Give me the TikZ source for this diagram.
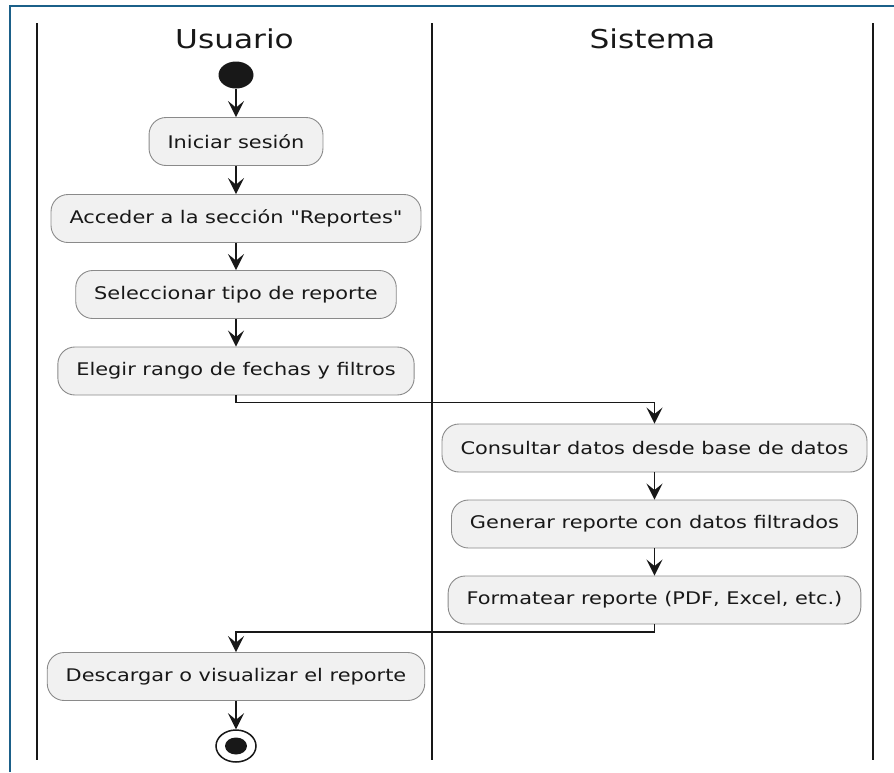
\documentclass[tikz,border=0pt]{standalone}
\usepackage{fontspec}
\usetikzlibrary{arrows.meta,shapes.geometric}
\newfontfamily\actfont[FakeStretch=1.2]{DejaVu Sans}
\definecolor{framecol}{HTML}{1B6089}
\definecolor{actfill}{HTML}{F1F1F1}
\definecolor{actline}{HTML}{8A8A8A}
\definecolor{ink}{HTML}{181818}
\begin{document}
\begin{tikzpicture}[x=1pt,y=-1pt,
  act/.style={draw=actline, line width=0.9pt, fill=actfill, rounded corners=17pt,
    minimum height=48pt, inner xsep=18.5pt, inner ysep=0pt, text=ink,
    font=\actfont\fontsize{17.4}{20}\selectfont},
  lanetitle/.style={text=ink, font=\actfont\fontsize{26}{30}\selectfont},
  lane/.style={draw=ink, line width=2.8pt},
  flow/.style={draw=ink, line width=1.5pt,
    -{Stealth[length=16pt, width=16pt, inset=6.5pt]}},
  startdot/.style={ellipse, fill=ink, minimum width=35pt, minimum height=27pt, inner sep=0pt},
  enddot/.style={ellipse, draw=ink, line width=1.5pt, fill=white,
    minimum width=40pt, minimum height=32pt, inner sep=0pt},
]
\useasboundingbox (0,0) rectangle (894,772);

% outer frame
\draw[framecol, line width=2pt] (9.5,772) -- (9.5,6) -- (894,6);

% swimlane separators
\draw[lane] (37,23) -- (37,760);
\draw[lane] (432,23) -- (432,760);
\draw[lane] (873,23) -- (873,760);

% lane titles
\node[lanetitle] (tuser) at (234.5,39) {Usuario};
\node[lanetitle] (tsys) at (652.5,39) {Sistema};

% activities
\node[startdot] (start) at (236,75) {};
\node[act] (a1) at (236,141.5) {Iniciar sesión};
\node[act] (a2) at (236,218.5) {Acceder a la sección "Reportes"};
\node[act] (a3) at (236,294.5) {Seleccionar tipo de reporte};
\node[act] (a4) at (236,371) {Elegir rango de fechas y filtros};
\node[act] (a5) at (654.5,448) {Consultar datos desde base de datos};
\node[act] (a6) at (654.5,524) {Generar reporte con datos filtrados};
\node[act] (a7) at (654.5,600) {Formatear reporte (PDF, Excel, etc.)};
\node[act] (a8) at (236,676.5) {Descargar o visualizar el reporte};
\node[enddot] (end) at (236,746) {};
\fill[ink] (end.center) ellipse [x radius=11pt, y radius=8.5pt];

% flow
\draw[flow] (start) -- (a1);
\draw[flow] (a1) -- (a2);
\draw[flow] (a2) -- (a3);
\draw[flow] (a3) -- (a4);
\draw[flow] (a4.south) -- ++(0,7) -| (a5.north);
\draw[flow] (a5) -- (a6);
\draw[flow] (a6) -- (a7);
\draw[flow] (a7.south) -- ++(0,7.5) -| (a8.north);
\draw[flow] (a8) -- (end);
\end{tikzpicture}
\end{document}
